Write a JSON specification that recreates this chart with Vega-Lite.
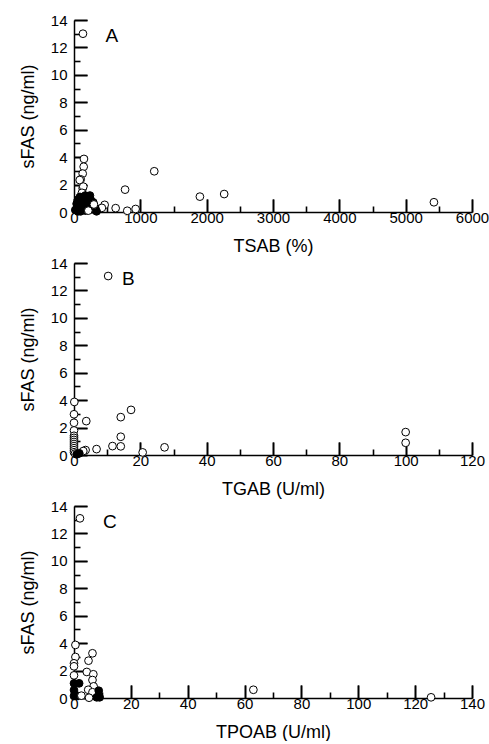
{
  "$schema": "https://vega.github.io/schema/vega-lite/v6.json",
  "padding": {"left": 19, "top": 13, "right": 0, "bottom": 0},
  "bounds": "flush",
  "spacing": 51,
  "background": "white",
  "config": {
    "view": {"stroke": null},
    "font": "Liberation Sans",
    "axis": {
      "domainColor": "#000",
      "domainWidth": 1.5,
      "tickColor": "#000",
      "tickWidth": 1.6,
      "grid": false,
      "labelFont": "Liberation Sans",
      "labelFontSize": 15,
      "labelColor": "#000",
      "titleFont": "Liberation Sans",
      "titleFontSize": 18,
      "titleFontWeight": "normal",
      "titleColor": "#000",
      "labelFlush": false,
      "labelOverlap": false
    },
    "axisX": {"labelPadding": 11, "titlePadding": 12},
    "axisY": {"labelPadding": 20, "titlePadding": 13}
  },
  "datasets": {
    "A": [
      {"x": 135, "y": 13.0, "type": "open"},
      {"x": 150, "y": 3.87, "type": "open"},
      {"x": 146, "y": 3.3, "type": "open"},
      {"x": 131, "y": 2.8, "type": "open"},
      {"x": 101, "y": 2.38, "type": "open"},
      {"x": 86, "y": 2.33, "type": "open"},
      {"x": 131, "y": 1.73, "type": "open"},
      {"x": 140, "y": 1.85, "type": "open"},
      {"x": 1210, "y": 2.97, "type": "open"},
      {"x": 770, "y": 1.63, "type": "open"},
      {"x": 1898, "y": 1.12, "type": "open"},
      {"x": 2264, "y": 1.31, "type": "open"},
      {"x": 462, "y": 0.52, "type": "open"},
      {"x": 628, "y": 0.28, "type": "open"},
      {"x": 803, "y": 0.09, "type": "open"},
      {"x": 929, "y": 0.22, "type": "open"},
      {"x": 420, "y": 0.3, "type": "open"},
      {"x": 5426, "y": 0.71, "type": "open"},
      {"x": 120, "y": 1.4, "type": "open"},
      {"x": 20, "y": 0.15, "type": "filled"},
      {"x": 40, "y": 0.6, "type": "filled"},
      {"x": 60, "y": 0.9, "type": "filled"},
      {"x": 70, "y": 0.3, "type": "filled"},
      {"x": 90, "y": 1.1, "type": "filled"},
      {"x": 100, "y": 0.05, "type": "filled"},
      {"x": 120, "y": 0.7, "type": "filled"},
      {"x": 140, "y": 1.0, "type": "filled"},
      {"x": 150, "y": 0.4, "type": "filled"},
      {"x": 170, "y": 1.2, "type": "filled"},
      {"x": 190, "y": 0.8, "type": "filled"},
      {"x": 210, "y": 1.1, "type": "filled"},
      {"x": 230, "y": 0.5, "type": "filled"},
      {"x": 250, "y": 0.9, "type": "filled"},
      {"x": 270, "y": 0.2, "type": "filled"},
      {"x": 290, "y": 0.7, "type": "filled"},
      {"x": 320, "y": 0.3, "type": "filled"},
      {"x": 340, "y": 0.05, "type": "filled"},
      {"x": 180, "y": 0.1, "type": "filled"},
      {"x": 60, "y": 0.05, "type": "filled"},
      {"x": 240, "y": 1.2, "type": "filled"},
      {"x": 216, "y": 0.1, "type": "open"},
      {"x": 300, "y": 0.55, "type": "open"}
    ],
    "B": [
      {"x": 10.3, "y": 13.05, "type": "open"},
      {"x": 0.1, "y": 3.87, "type": "open"},
      {"x": 0, "y": 2.97, "type": "open"},
      {"x": 0, "y": 2.35, "type": "open"},
      {"x": 0, "y": 1.79, "type": "open"},
      {"x": 3.7, "y": 2.47, "type": "open"},
      {"x": 14.1, "y": 2.76, "type": "open"},
      {"x": 17.2, "y": 3.29, "type": "open"},
      {"x": 14.1, "y": 1.33, "type": "open"},
      {"x": 14.1, "y": 0.63, "type": "open"},
      {"x": 11.6, "y": 0.65, "type": "open"},
      {"x": 6.8, "y": 0.43, "type": "open"},
      {"x": 3.5, "y": 0.36, "type": "open"},
      {"x": 2.8, "y": 0.29, "type": "open"},
      {"x": 20.7, "y": 0.19, "type": "open"},
      {"x": 27.3, "y": 0.56, "type": "open"},
      {"x": 100, "y": 1.67, "type": "open"},
      {"x": 100, "y": 0.89, "type": "open"},
      {"x": 0, "y": 1.4, "type": "open"},
      {"x": 0, "y": 1.25, "type": "open"},
      {"x": 0, "y": 1.1, "type": "open"},
      {"x": 0, "y": 0.95, "type": "open"},
      {"x": 0, "y": 0.8, "type": "open"},
      {"x": 0, "y": 0.65, "type": "open"},
      {"x": 0, "y": 0.5, "type": "open"},
      {"x": 0, "y": 0.35, "type": "open"},
      {"x": 0, "y": 0.2, "type": "open"},
      {"x": 0.3, "y": 0.1, "type": "open"},
      {"x": 0.8, "y": 0.05, "type": "filled"},
      {"x": 1.6, "y": 0.12, "type": "filled"}
    ],
    "C": [
      {"x": 2.1, "y": 13.1, "type": "open"},
      {"x": 0.5, "y": 3.87, "type": "open"},
      {"x": 0.5, "y": 2.99, "type": "open"},
      {"x": 0, "y": 2.53, "type": "open"},
      {"x": 0, "y": 2.31, "type": "open"},
      {"x": 0, "y": 1.65, "type": "open"},
      {"x": 6.5, "y": 3.26, "type": "open"},
      {"x": 5.1, "y": 2.72, "type": "open"},
      {"x": 4.5, "y": 1.9, "type": "open"},
      {"x": 6.8, "y": 1.73, "type": "open"},
      {"x": 6.5, "y": 1.31, "type": "open"},
      {"x": 6.9, "y": 0.85, "type": "open"},
      {"x": 5.0, "y": 0.6, "type": "open"},
      {"x": 6.5, "y": 0.42, "type": "open"},
      {"x": 63.1, "y": 0.6, "type": "open"},
      {"x": 125.6, "y": 0.05, "type": "open"},
      {"x": 0, "y": 1.07, "type": "filled"},
      {"x": 1.8, "y": 1.07, "type": "filled"},
      {"x": 0, "y": 0.58, "type": "filled"},
      {"x": 0, "y": 0.15, "type": "filled"},
      {"x": 1.4, "y": 0.15, "type": "filled"},
      {"x": 8.7, "y": 0.53, "type": "filled"},
      {"x": 8.0, "y": 0.05, "type": "filled"},
      {"x": 9.0, "y": 0.05, "type": "filled"},
      {"x": 5.3, "y": 0.02, "type": "open"},
      {"x": 2.6, "y": 0.17, "type": "open"}
    ],
    "labA": [{"x": 572, "y": 12.8, "label": "A"}],
    "labB": [{"x": 16.4, "y": 12.86, "label": "B"}],
    "labC": [{"x": 12.6, "y": 12.86, "label": "C"}]
  },
  "vconcat": [
    {
      "width": 398,
      "height": 192,
      "resolve": {"axis": {"x": "independent", "y": "independent"}},
      "layer": [
        {
          "data": {"name": "A"},
          "mark": {"type": "point", "shape": "circle", "filled": true, "size": 60, "stroke": "#000", "strokeWidth": 1, "opacity": 1},
          "encoding": {
            "x": {"field": "x", "type": "quantitative", "scale": {"domain": [0, 6000], "nice": false, "zero": true},
              "axis": {"orient": "bottom", "title": "TSAB (%)", "values": [0, 1000, 2000, 3000, 4000, 5000, 6000], "format": "d", "tickSize": -13}},
            "y": {"field": "y", "type": "quantitative", "scale": {"domain": [0, 14], "nice": false},
              "axis": {"orient": "left", "title": "sFAS (ng/ml)", "values": [0, 2, 4, 6, 8, 10, 12, 14], "tickSize": -13}},
            "fill": {"field": "type", "type": "nominal", "scale": {"domain": ["open", "filled"], "range": ["white", "black"]}, "legend": null}
          }
        },
        {
          "data": {"name": "labA"},
          "mark": {"type": "text", "fontSize": 19, "font": "Liberation Sans", "color": "#000"},
          "encoding": {
            "x": {"field": "x", "type": "quantitative",
              "axis": {"orient": "bottom", "title": null, "labels": false, "domain": false, "values": [0, 1000, 2000, 3000, 4000, 5000, 6000], "offset": -13, "tickSize": 13}},
            "y": {"field": "y", "type": "quantitative",
              "axis": {"orient": "left", "title": null, "labels": false, "domain": false, "values": [0, 2, 4, 6, 8, 10, 12, 14], "offset": -13, "tickSize": 13}},
            "text": {"field": "label"}
          }
        },
        {
          "data": {"name": "labA"},
          "mark": {"type": "text", "opacity": 0},
          "encoding": {
            "x": {"field": "x", "type": "quantitative",
              "axis": {"orient": "bottom", "title": null, "labels": false, "domain": false, "values": [500, 1500, 2500, 3500, 4500, 5500], "offset": -6, "tickSize": 6}},
            "y": {"field": "y", "type": "quantitative",
              "axis": {"orient": "left", "title": null, "labels": false, "domain": false, "values": [1, 3, 5, 7, 9, 11, 13], "offset": -6, "tickSize": 6}},
            "text": {"field": "label"}
          }
        }
      ]
    },
    {
      "width": 398,
      "height": 192,
      "resolve": {"axis": {"x": "independent", "y": "independent"}},
      "layer": [
        {
          "data": {"name": "B"},
          "mark": {"type": "point", "shape": "circle", "filled": true, "size": 60, "stroke": "#000", "strokeWidth": 1, "opacity": 1},
          "encoding": {
            "x": {"field": "x", "type": "quantitative", "scale": {"domain": [0, 120], "nice": false},
              "axis": {"orient": "bottom", "title": "TGAB (U/ml)", "values": [0, 20, 40, 60, 80, 100, 120], "tickSize": -13}},
            "y": {"field": "y", "type": "quantitative", "scale": {"domain": [0, 14], "nice": false},
              "axis": {"orient": "left", "title": "sFAS (ng/ml)", "values": [0, 2, 4, 6, 8, 10, 12, 14], "tickSize": -13}},
            "fill": {"field": "type", "type": "nominal", "scale": {"domain": ["open", "filled"], "range": ["white", "black"]}, "legend": null}
          }
        },
        {
          "data": {"name": "labB"},
          "mark": {"type": "text", "fontSize": 19, "font": "Liberation Sans", "color": "#000"},
          "encoding": {
            "x": {"field": "x", "type": "quantitative",
              "axis": {"orient": "bottom", "title": null, "labels": false, "domain": false, "values": [0, 20, 40, 60, 80, 100, 120], "offset": -13, "tickSize": 13}},
            "y": {"field": "y", "type": "quantitative",
              "axis": {"orient": "left", "title": null, "labels": false, "domain": false, "values": [0, 2, 4, 6, 8, 10, 12, 14], "offset": -13, "tickSize": 13}},
            "text": {"field": "label"}
          }
        },
        {
          "data": {"name": "labB"},
          "mark": {"type": "text", "opacity": 0},
          "encoding": {
            "x": {"field": "x", "type": "quantitative",
              "axis": {"orient": "bottom", "title": null, "labels": false, "domain": false, "values": [10, 30, 50, 70, 90, 110], "offset": -6, "tickSize": 6}},
            "y": {"field": "y", "type": "quantitative",
              "axis": {"orient": "left", "title": null, "labels": false, "domain": false, "values": [1, 3, 5, 7, 9, 11, 13], "offset": -6, "tickSize": 6}},
            "text": {"field": "label"}
          }
        }
      ]
    },
    {
      "width": 398,
      "height": 192,
      "resolve": {"axis": {"x": "independent", "y": "independent"}},
      "layer": [
        {
          "data": {"name": "C"},
          "mark": {"type": "point", "shape": "circle", "filled": true, "size": 60, "stroke": "#000", "strokeWidth": 1, "opacity": 1},
          "encoding": {
            "x": {"field": "x", "type": "quantitative", "scale": {"domain": [0, 140], "nice": false},
              "axis": {"orient": "bottom", "title": "TPOAB (U/ml)", "values": [0, 20, 40, 60, 80, 100, 120, 140], "tickSize": -13}},
            "y": {"field": "y", "type": "quantitative", "scale": {"domain": [0, 14], "nice": false},
              "axis": {"orient": "left", "title": "sFAS (ng/ml)", "values": [0, 2, 4, 6, 8, 10, 12, 14], "tickSize": -13}},
            "fill": {"field": "type", "type": "nominal", "scale": {"domain": ["open", "filled"], "range": ["white", "black"]}, "legend": null}
          }
        },
        {
          "data": {"name": "labC"},
          "mark": {"type": "text", "fontSize": 19, "font": "Liberation Sans", "color": "#000"},
          "encoding": {
            "x": {"field": "x", "type": "quantitative",
              "axis": {"orient": "bottom", "title": null, "labels": false, "domain": false, "values": [0, 20, 40, 60, 80, 100, 120, 140], "offset": -13, "tickSize": 13}},
            "y": {"field": "y", "type": "quantitative",
              "axis": {"orient": "left", "title": null, "labels": false, "domain": false, "values": [0, 2, 4, 6, 8, 10, 12, 14], "offset": -13, "tickSize": 13}},
            "text": {"field": "label"}
          }
        },
        {
          "data": {"name": "labC"},
          "mark": {"type": "text", "opacity": 0},
          "encoding": {
            "x": {"field": "x", "type": "quantitative",
              "axis": {"orient": "bottom", "title": null, "labels": false, "domain": false, "values": [10, 30, 50, 70, 90, 110, 130], "offset": -6, "tickSize": 6}},
            "y": {"field": "y", "type": "quantitative",
              "axis": {"orient": "left", "title": null, "labels": false, "domain": false, "values": [1, 3, 5, 7, 9, 11, 13], "offset": -6, "tickSize": 6}},
            "text": {"field": "label"}
          }
        }
      ]
    }
  ]
}
